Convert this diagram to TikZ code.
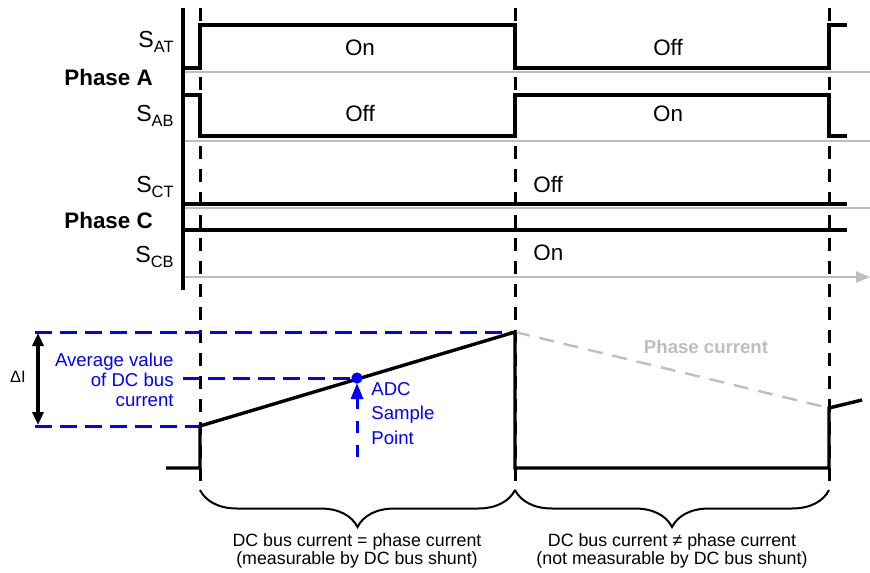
\documentclass[tikz,border=0pt]{standalone}
\usepackage{fontspec}
\setmainfont{Liberation Sans}
\usetikzlibrary{arrows.meta,decorations.pathreplacing}
\definecolor{linegray}{RGB}{190,190,190}
\newcommand{\swname}[1]{S\raisebox{-2.5pt}{\fontsize{8.2}{9}\selectfont #1}}
\tikzset{wave/.style = {line width=1.7pt,
                        black},
         zeroline/.style = {line width=1pt,
                            linegray},
         tmark/.style = {line width=1.5pt,
                         dash pattern=on 6.5pt off 5pt},
         bluedash/.style = {line width=1.5pt,
                            blue,
                            dash pattern=on 8.3pt off 4.2pt},
         signame/.style = {anchor=base east,
                           inner sep=0pt,
                           font=\fontsize{11.6}{14}\selectfont},
         phasename/.style = {anchor=base west,
                             inner sep=0pt,
                             font=\bfseries\fontsize{11.2}{14}\selectfont},
         state/.style = {anchor=base,
                         inner sep=0pt,
                         font=\fontsize{11.2}{14}\selectfont},
         bracetext/.style = {anchor=north,
                             inner sep=0pt,
                             align=center,
                             font=\fontsize{8.9}{9}\selectfont}}

\begin{document}
\begin{tikzpicture}[x=0.5pt, y=-0.5pt]
    \useasboundingbox (0,0) rectangle (870,572);
    % switch signals
    \node[signame] (sat) at (174,48) {\swname{AT}};
    \node[phasename] (pha) at (64,86) {Phase A};
    \node[signame] (sab) at (174,122) {\swname{AB}};
    \node[signame] (sct) at (174,192) {\swname{CT}};
    \node[phasename] (phc) at (64,228) {Phase C};
    \node[signame] (scb) at (174,262) {\swname{CB}};
    \draw[zeroline] (183,72) -- (870,72);
    \draw[zeroline] (183,141) -- (870,141);
    \draw[zeroline] (183,208) -- (870,208);
    \draw[zeroline, -{Triangle[length=7pt,width=5.5pt]}] (183,277) -- (870,277);
    \draw[wave] (183,68) -| (200,25) -| (515,68) -| (829,25) -- (847,25);
    \draw[wave] (183,95) -| (200,136) -| (515,95) -| (829,136) -- (847,136);
    \draw[wave] (183,204) -- (847,204);
    \draw[wave] (183,230) -- (847,230);
    \draw[wave] (183,8) -- (183,290);
    \node[state] (aon) at (360,56) {On};
    \node[state] (aoff) at (668,56) {Off};
    \node[state] (boff) at (360,122) {Off};
    \node[state] (bon) at (668,122) {On};
    \node[state, anchor=base west] (coff) at (533,192) {Off};
    \node[state, anchor=base west] (con) at (533,260) {On};
    % time marks
    \draw[tmark] (200,8) -- (200,490);
    \draw[tmark] (515,8) -- (515,490);
    \draw[tmark] (829,8) -- (829,490);
    % current
    \draw[bluedash] (35,332) -- (515,332);
    \draw[bluedash] (35,426) -- (200,426);
    \draw[bluedash] (183,378) -- (357,378);
    \draw[line width=1.6pt, {Triangle[length=6.5pt,width=5.5pt]}-{Triangle[length=6.5pt,width=5.5pt]}] (38,333) -- (38,425);
    \node[inner sep=0pt, anchor=base, font=\fontsize{8.2}{10}\selectfont] (di) at (18,382) {ΔI};
    \node[inner sep=0pt, anchor=north east, align=right, text=blue, font=\fontsize{9.3}{10}\selectfont] (avg) at (174,353) {Average value\\of DC bus\\current};
    \draw[line width=1.2pt, linegray, dash pattern=on 7.5pt off 5pt] (515,332) -- (829,408);
    \node[inner sep=0pt, anchor=base, text=linegray, font=\bfseries\fontsize{9.3}{10}\selectfont] (phcur) at (706,353) {Phase current};
    \draw[wave] (166,468) -| (200,426) -- (515,332) |- (829,468) -- (829,408) -- (862,400);
    \draw[line width=1.5pt, blue, dash pattern=on 6pt off 6pt, -{Triangle[length=8pt,width=6pt]}] (357,457) -- (357,383);
    \fill[blue] (357,378) circle (2.8pt);
    \node[inner sep=0pt, anchor=north west, align=left, text=blue, font=\fontsize{9.3}{12.2}\selectfont] (adc) at (371,382) {ADC\\Sample\\Point};
    % braces
    \draw[line width=1pt, decorate, decoration={brace, mirror, amplitude=18.5pt, aspect=0.5}] (200,490) -- (515,490);
    \draw[line width=1pt, decorate, decoration={brace, mirror, amplitude=18.5pt, aspect=0.5}] (515,490) -- (829,490);
    \node[bracetext] (meas) at (357,533) {DC bus current = phase current\\(measurable by DC bus shunt)};
    \node[bracetext] (nmeas) at (672,533) {DC bus current ≠ phase current\\(not measurable by DC bus shunt)};
\end{tikzpicture}
\end{document}
